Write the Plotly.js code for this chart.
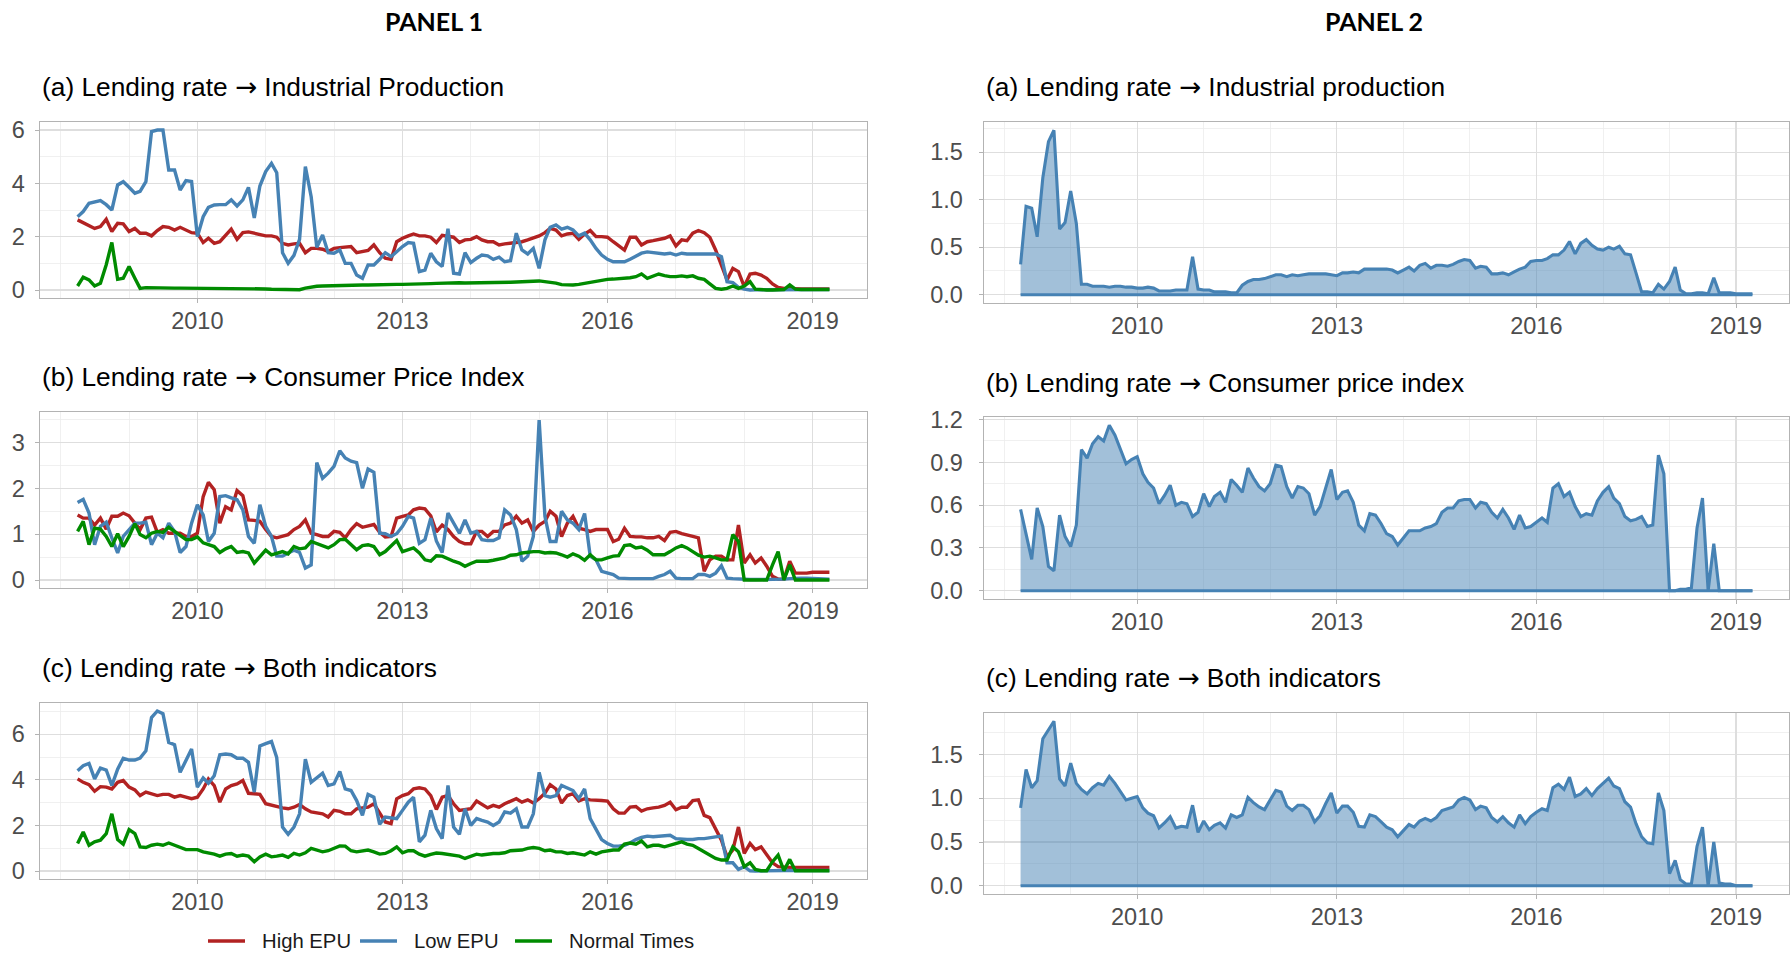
<!DOCTYPE html>
<html><head><meta charset="utf-8">
<script src="https://cdn.plot.ly/plotly-3.0.1.min.js"></script>
<style>html,body{margin:0;padding:0;background:#fff;}#chart{width:1791px;height:955px;}</style>
</head><body><div id="chart"></div>
<script>
// ---------- DATA (monthly, Apr 2008 – Apr 2019) ----------
const START_YEAR = 2008, START_MONTH = 4, N_MONTHS = 133;
const seriesNames = ['High EPU', 'Low EPU', 'Normal Times'];
const xTickLabels = ['2010', '2013', '2016', '2019'];

const p1a_high = [2.63,2.53,2.4,2.31,2.38,2.65,2.19,2.5,2.48,2.19,
2.31,2.13,2.13,2.03,2.23,2.38,2.35,2.25,2.35,2.25,
2.15,2.13,1.78,1.94,1.75,1.81,2.06,2.28,1.9,2.15,
2.18,2.13,2.06,2.03,2.03,1.98,1.75,1.69,1.73,1.75,
1.4,1.56,1.56,1.53,1.44,1.56,1.59,1.6,1.63,1.4,
1.44,1.48,1.69,1.4,1.19,1.15,1.81,1.94,2.03,2.1,
2.03,2.03,1.98,1.78,2.05,2.03,1.98,1.78,1.88,1.9,
2.0,1.88,1.81,1.81,1.69,1.73,1.75,1.78,1.81,1.88,
1.94,2.03,2.15,2.31,2.25,2.03,2.1,2.13,1.9,2.1,
2.23,2.0,2.0,1.98,1.81,1.65,1.5,1.98,1.98,1.69,
1.81,1.85,1.88,1.94,2.03,1.65,1.88,1.85,2.13,2.23,
2.15,1.98,1.5,0.94,0.38,0.81,0.69,0.13,0.6,0.63,
0.56,0.44,0.23,0.1,0.06,0.06,0.04,0.04,0.04,0.04,
0.04,0.04,0.04];
const p1a_low = [2.75,2.94,3.25,3.3,3.35,3.2,3.0,3.94,4.06,3.85,
3.63,3.7,4.06,5.94,6.0,6.0,4.5,4.5,3.75,4.1,
4.07,2.0,2.75,3.1,3.19,3.2,3.2,3.38,3.15,3.38,
3.85,2.7,3.9,4.44,4.75,4.4,1.4,1.0,1.3,1.9,
4.63,3.5,1.6,2.06,1.4,1.38,1.5,1.0,1.0,0.56,
0.44,0.94,0.94,1.15,1.4,1.25,1.44,1.63,1.78,1.75,
0.69,0.75,1.38,1.06,0.88,2.3,0.63,0.6,1.4,1.03,
1.19,1.31,1.28,1.15,1.23,1.06,1.1,2.13,1.5,1.35,
1.56,0.81,1.88,2.35,2.44,2.28,2.35,2.25,2.03,2.13,
1.88,1.56,1.31,1.15,1.06,1.06,1.06,1.15,1.28,1.38,
1.43,1.4,1.38,1.35,1.38,1.31,1.38,1.35,1.35,1.35,
1.35,1.35,1.35,1.25,0.31,0.28,0.1,0.03,0.0,0.01,
0.01,0.01,0.01,0.02,0.02,0.04,0.02,0.02,0.02,0.02,
0.02,0.02,0.02];
const p1a_normal = [0.15,0.48,0.38,0.15,0.25,0.95,1.78,0.4,0.44,0.88,
0.44,0.06,0.09,0.08,0.08,0.07,0.07,0.07,0.07,0.07,
0.06,0.06,0.06,0.06,0.06,0.05,0.04,0.04,0.04,0.04,
0.05,0.05,0.04,0.04,0.03,0.03,0.03,0.02,0.02,0.01,
0.07,0.11,0.14,0.15,0.16,0.17,0.17,0.18,0.18,0.19,
0.19,0.19,0.2,0.2,0.2,0.2,0.21,0.21,0.21,0.22,
0.22,0.23,0.24,0.25,0.26,0.26,0.27,0.27,0.26,0.26,
0.27,0.28,0.28,0.27,0.28,0.28,0.29,0.3,0.3,0.31,
0.33,0.34,0.32,0.3,0.26,0.2,0.19,0.19,0.21,0.25,
0.29,0.31,0.38,0.4,0.41,0.42,0.44,0.46,0.5,0.6,
0.44,0.53,0.6,0.54,0.5,0.5,0.53,0.5,0.53,0.44,
0.4,0.23,0.06,0.03,0.06,0.15,0.06,0.15,0.31,0.03,
0.0,0.0,0.0,0.0,0.02,0.19,0.03,0.02,0.02,0.02,
0.02,0.02,0.02];

const p1b_high = [1.42,1.35,1.35,1.2,1.35,1.11,1.39,1.39,1.46,1.4,
1.24,1.1,1.35,1.37,1.04,1.1,1.02,1.02,1.02,0.95,
0.95,1.02,1.82,2.13,1.97,1.24,1.6,1.53,1.95,1.84,
1.31,1.3,1.28,1.1,0.95,0.92,0.95,0.99,1.1,1.17,
1.31,1.02,0.99,0.95,0.95,1.06,1.04,0.92,1.1,1.23,
1.15,1.18,1.21,1.04,0.94,0.95,1.35,1.39,1.42,1.53,
1.57,1.55,1.4,1.05,1.2,1.1,0.95,0.84,0.79,0.79,
1.06,1.06,0.95,1.06,1.06,1.2,1.24,1.39,1.24,1.31,
1.06,1.2,1.28,1.5,1.39,0.95,1.24,1.39,1.13,1.1,
1.06,1.1,1.1,1.1,0.84,0.89,1.13,0.95,0.94,0.94,
0.92,0.92,0.95,0.86,1.04,1.06,1.01,0.99,0.95,0.92,
0.19,0.44,0.52,0.52,0.44,0.44,1.2,0.37,0.55,0.37,
0.48,0.3,0.08,0.02,0.02,0.41,0.15,0.15,0.15,0.17,
0.17,0.17,0.17];
const p1b_low = [1.69,1.76,1.46,0.77,1.17,1.26,0.92,0.59,0.95,1.1,
1.24,1.24,1.26,0.77,1.02,0.92,1.24,1.06,0.6,0.73,
1.24,1.64,1.42,0.84,1.02,1.82,1.84,1.79,1.75,1.53,
0.95,0.8,1.64,1.17,0.95,0.52,0.52,0.59,0.65,0.6,
0.26,0.33,2.56,2.22,2.33,2.48,2.82,2.66,2.59,2.56,
2.0,2.42,2.35,1.02,1.01,0.95,1.01,1.17,1.39,1.35,
0.8,0.88,1.35,0.85,0.6,1.46,1.24,1.02,1.31,1.02,
1.06,0.88,0.86,0.86,0.92,1.53,1.42,1.1,0.41,0.52,
0.95,3.49,1.39,0.84,0.84,1.5,1.31,1.24,1.1,1.45,
0.52,0.44,0.19,0.15,0.12,0.04,0.03,0.03,0.03,0.03,
0.03,0.03,0.08,0.12,0.19,0.04,0.03,0.03,0.03,0.12,
0.12,0.08,0.15,0.31,0.04,0.03,0.02,0.02,0.01,0.01,
0.01,0.01,0.01,0.01,0.02,0.03,0.04,0.04,0.04,0.03,
0.03,0.02,0.02];
const p1b_normal = [1.06,1.28,0.77,1.13,1.11,0.95,0.73,1.01,0.73,0.95,
1.23,0.99,0.92,1.02,1.06,1.04,1.15,1.06,0.99,0.88,
0.88,0.94,0.81,0.77,0.73,0.6,0.68,0.73,0.6,0.62,
0.59,0.37,0.52,0.65,0.55,0.59,0.62,0.57,0.73,0.68,
0.7,0.84,0.79,0.73,0.7,0.77,0.88,0.89,0.77,0.66,
0.75,0.77,0.73,0.55,0.62,0.73,0.86,0.62,0.66,0.7,
0.59,0.44,0.41,0.53,0.52,0.46,0.41,0.37,0.3,0.36,
0.41,0.41,0.41,0.43,0.46,0.48,0.54,0.55,0.59,0.61,
0.62,0.62,0.59,0.6,0.59,0.55,0.5,0.57,0.52,0.43,
0.55,0.44,0.44,0.48,0.52,0.53,0.75,0.77,0.7,0.72,
0.65,0.55,0.55,0.55,0.62,0.7,0.75,0.7,0.62,0.54,
0.5,0.52,0.48,0.44,0.44,0.99,0.84,0.0,0.0,0.0,
0.0,0.0,0.33,0.62,0.0,0.33,0.0,0.0,0.0,0.0,
0.0,0.0,0.0];

const p1c_high = [4.04,3.89,3.79,3.5,3.7,3.68,3.6,3.89,3.97,3.68,
3.56,3.31,3.46,3.39,3.31,3.36,3.36,3.24,3.31,3.24,
3.17,3.24,3.6,4.04,3.75,3.02,3.6,3.75,3.82,3.97,
3.41,3.39,3.36,2.95,2.88,2.83,2.77,2.73,2.8,2.92,
2.73,2.59,2.54,2.51,2.37,2.66,2.62,2.51,2.51,2.73,
2.77,2.8,2.95,2.51,2.15,2.08,3.17,3.31,3.39,3.6,
3.65,3.6,3.31,2.7,3.24,3.31,2.95,2.66,2.69,2.73,
3.07,2.92,2.77,2.88,2.8,2.95,3.07,3.17,3.02,3.12,
2.98,3.17,3.41,3.79,3.6,2.98,3.31,3.39,3.07,3.17,
3.12,3.09,3.09,3.07,2.73,2.54,2.54,2.8,2.83,2.63,
2.73,2.77,2.8,2.88,3.02,2.69,2.8,2.8,3.09,3.12,
2.44,2.34,1.86,1.35,0.62,0.92,1.93,0.77,1.21,0.94,
1.06,0.7,0.36,0.19,0.16,0.16,0.16,0.16,0.16,0.16,
0.16,0.16,0.16];
const p1c_low = [4.4,4.62,4.72,4.04,4.52,4.43,3.75,4.47,4.95,4.87,
4.87,4.95,5.27,6.73,7.02,6.9,5.64,5.54,4.33,4.84,
5.35,3.68,4.08,3.85,4.18,5.1,5.13,5.1,4.95,4.95,
4.77,3.46,5.49,5.59,5.68,4.98,1.93,1.61,1.93,2.51,
4.91,3.89,4.11,4.29,3.75,3.82,4.37,3.6,3.53,3.09,
2.44,3.36,3.24,2.05,2.37,2.34,2.3,2.66,3.02,3.24,
1.28,1.57,2.66,1.86,1.42,3.75,1.93,1.61,2.73,2.0,
2.3,2.22,2.15,2.0,2.15,2.59,2.54,2.73,1.93,1.93,
2.51,4.33,3.31,3.24,3.31,3.75,3.65,3.53,3.17,3.6,
2.3,1.86,1.38,1.21,1.09,1.09,1.13,1.23,1.38,1.47,
1.53,1.5,1.53,1.53,1.57,1.42,1.38,1.38,1.38,1.42,
1.42,1.47,1.5,1.53,0.36,0.36,0.07,0.19,0.01,0.0,
0.01,0.01,0.01,0.01,0.02,0.02,0.02,0.02,0.02,0.02,
0.02,0.02,0.02];
const p1c_normal = [1.21,1.71,1.13,1.28,1.35,1.64,2.51,1.38,1.18,1.82,
1.64,1.06,1.03,1.13,1.18,1.13,1.23,1.13,1.03,0.94,
0.94,0.94,0.84,0.8,0.74,0.65,0.74,0.77,0.65,0.7,
0.65,0.41,0.62,0.74,0.62,0.65,0.7,0.6,0.77,0.7,
0.8,0.99,0.92,0.84,0.89,0.99,1.1,1.09,0.89,0.84,
0.89,0.92,0.84,0.74,0.77,0.89,1.06,0.8,0.89,0.89,
0.74,0.65,0.73,0.79,0.77,0.74,0.7,0.65,0.55,0.65,
0.74,0.7,0.74,0.77,0.77,0.8,0.89,0.89,0.92,0.99,
1.03,0.99,0.89,0.92,0.84,0.84,0.77,0.8,0.74,0.7,
0.84,0.74,0.84,0.89,0.92,0.92,1.18,1.23,1.18,1.32,
1.06,1.13,1.13,1.06,1.13,1.21,1.28,1.18,1.13,0.99,
0.84,0.7,0.55,0.48,0.48,1.06,0.84,0.19,0.36,0.07,
0.01,0.01,0.41,0.7,0.01,0.51,0.01,0.01,0.01,0.01,
0.01,0.01,0.01];

const p2a = [0.32,0.93,0.91,0.61,1.23,1.61,1.73,0.69,0.76,1.09,
0.75,0.11,0.11,0.09,0.09,0.09,0.08,0.09,0.09,0.08,
0.08,0.07,0.07,0.08,0.07,0.04,0.04,0.04,0.05,0.05,
0.05,0.4,0.06,0.05,0.05,0.03,0.03,0.03,0.02,0.02,
0.1,0.14,0.16,0.16,0.17,0.19,0.21,0.21,0.19,0.21,
0.2,0.21,0.22,0.22,0.22,0.22,0.21,0.2,0.23,0.23,
0.24,0.23,0.27,0.27,0.27,0.27,0.27,0.26,0.23,0.26,
0.29,0.25,0.31,0.33,0.28,0.31,0.31,0.3,0.32,0.35,
0.37,0.36,0.28,0.3,0.29,0.22,0.22,0.23,0.21,0.24,
0.27,0.29,0.35,0.36,0.36,0.38,0.42,0.42,0.47,0.56,
0.43,0.54,0.58,0.52,0.48,0.47,0.5,0.48,0.51,0.43,
0.42,0.23,0.03,0.03,0.02,0.11,0.06,0.14,0.29,0.05,
0.01,0.01,0.02,0.02,0.01,0.18,0.02,0.02,0.02,0.01,
0.01,0.01,0.01];
const p2b = [0.57,0.4,0.22,0.58,0.45,0.17,0.14,0.53,0.38,0.31,
0.46,0.99,0.93,1.03,1.08,1.05,1.16,1.09,0.99,0.89,
0.92,0.94,0.82,0.76,0.72,0.61,0.67,0.74,0.6,0.62,
0.61,0.52,0.55,0.68,0.59,0.66,0.69,0.62,0.78,0.74,
0.69,0.86,0.79,0.73,0.7,0.75,0.88,0.87,0.73,0.65,
0.73,0.72,0.68,0.53,0.59,0.72,0.85,0.64,0.69,0.7,
0.62,0.46,0.42,0.54,0.53,0.47,0.4,0.38,0.32,0.37,
0.42,0.42,0.42,0.44,0.45,0.47,0.55,0.58,0.58,0.63,
0.64,0.64,0.58,0.62,0.61,0.55,0.51,0.57,0.51,0.43,
0.53,0.44,0.45,0.48,0.51,0.48,0.72,0.75,0.66,0.69,
0.59,0.52,0.54,0.53,0.63,0.69,0.73,0.65,0.61,0.52,
0.49,0.5,0.52,0.45,0.46,0.95,0.82,0.0,0.0,0.01,
0.01,0.02,0.44,0.65,0.0,0.33,0.0,0.0,0.0,0.0,
0.0,0.0,0.0];
const p2c = [0.89,1.33,1.12,1.2,1.68,1.78,1.88,1.22,1.14,1.4,
1.17,1.1,1.05,1.12,1.17,1.15,1.25,1.17,1.08,0.98,
1.0,1.02,0.89,0.83,0.8,0.66,0.72,0.79,0.66,0.68,
0.67,0.92,0.61,0.74,0.64,0.69,0.72,0.66,0.81,0.78,
0.81,1.01,0.95,0.9,0.87,0.98,1.09,1.07,0.91,0.86,
0.92,0.92,0.87,0.73,0.8,0.94,1.06,0.83,0.91,0.91,
0.84,0.68,0.67,0.81,0.79,0.73,0.67,0.64,0.56,0.63,
0.7,0.67,0.74,0.77,0.74,0.78,0.86,0.88,0.9,0.98,
1.01,0.98,0.87,0.91,0.89,0.78,0.73,0.79,0.72,0.67,
0.81,0.71,0.79,0.84,0.88,0.86,1.12,1.16,1.1,1.24,
1.02,1.05,1.11,1.03,1.11,1.17,1.23,1.14,1.11,0.96,
0.9,0.71,0.56,0.49,0.48,1.06,0.86,0.14,0.29,0.07,
0.02,0.02,0.45,0.67,0.0,0.5,0.03,0.02,0.02,0.0,
0.0,0.0,0.0];

// ---------- BUILD ----------
const months = Array.from({length: N_MONTHS}, (_, i) => {
  const m = START_MONTH - 1 + i;
  const y = START_YEAR + Math.floor(m / 12);
  return y + '-' + String(m % 12 + 1).padStart(2, '0') + '-01';
});

const W = 1791, H = 955;
const FONT = 'Liberation Sans, Arial, sans-serif';
const SERIES_COLORS = ['#B22222', '#4682B4', '#008B00'];

const t0 = Date.parse(months[0]), t1 = Date.parse(months[N_MONTHS - 1]);
const xpad = 0.05 * (t1 - t0);
const xRange = [t0 - xpad, t1 + xpad];

function yRange(arrs) {
  let lo = Infinity, hi = -Infinity;
  arrs.forEach(a => a.forEach(v => { lo = Math.min(lo, v); hi = Math.max(hi, v); }));
  lo = Math.min(lo, 0);
  const p = 0.05 * (hi - lo);
  return [lo - p, hi + p];
}

// subplot boxes in pixels: [left, top, right, bottom]
const boxes = [
  [40, 122, 867, 298],
  [40, 412, 867, 588],
  [40, 703, 867, 879],
  [984, 122, 1789, 303],
  [984, 417, 1789, 599],
  [984, 713, 1789, 894]
];
const p1sets = [
  [p1a_high, p1a_low, p1a_normal],
  [p1b_high, p1b_low, p1b_normal],
  [p1c_high, p1c_low, p1c_normal]
];
const p2sets = [p2a, p2b, p2c];
const yDticks = [2, 1, 2, 0.5, 0.3, 0.5];
const yFormats = ['d', 'd', 'd', '.1f', '.1f', '.1f'];

const traces = [];
const layout = {
  width: W, height: H,
  margin: {l: 0, r: 0, t: 0, b: 0},
  paper_bgcolor: '#fff', plot_bgcolor: '#fff',
  font: {family: FONT, color: '#000'},
  showlegend: false,
  annotations: [],
  shapes: []
};

const gridC = '#dedede', minorC = '#ececec', lineC = '#b3b3b3';

boxes.forEach((b, k) => {
  const n = k + 1;
  const xa = 'xaxis' + (n === 1 ? '' : n), ya = 'yaxis' + (n === 1 ? '' : n);
  const xref = 'x' + (n === 1 ? '' : n), yref = 'y' + (n === 1 ? '' : n);
  const isP2 = k >= 3;
  const arrs = isP2 ? [p2sets[k - 3]] : p1sets[k];
  layout[xa] = {
    type: 'date', domain: [b[0] / W, b[2] / W], anchor: yref, range: xRange,
    tickmode: 'linear', tick0: '2010-01-01', dtick: 'M36', tickformat: '%Y',
    showgrid: true, gridcolor: gridC, gridwidth: 1.1,
    minor: {tickmode: 'linear', tick0: '2008-01-01', dtick: 'M12', showgrid: true, gridcolor: minorC, gridwidth: 0.8},
    showline: true, mirror: true, linecolor: lineC, linewidth: 1.4,
    ticks: 'outside', ticklen: 4, tickcolor: lineC, tickwidth: 1,
    tickfont: {size: 23.5, color: '#4d4d4d', family: FONT},
    ticklabelstandoff: -3,
    zeroline: false, fixedrange: true
  };
  layout[ya] = {
    domain: [1 - b[3] / H, 1 - b[1] / H], anchor: xref, range: yRange(arrs),
    tickmode: 'linear', tick0: 0, dtick: yDticks[k], tickformat: yFormats[k],
    showgrid: true, gridcolor: gridC, gridwidth: 1.1,
    minor: {tickmode: 'linear', tick0: 0, dtick: yDticks[k] / 2, showgrid: true, gridcolor: minorC, gridwidth: 0.8},
    showline: true, mirror: true, linecolor: lineC, linewidth: 1.4,
    ticks: 'outside', ticklen: 4, tickcolor: lineC, tickwidth: 1,
    tickfont: {size: 23.5, color: '#4d4d4d', family: FONT},
    ticklabelstandoff: isP2 ? 11 : 5,
    zeroline: false, fixedrange: true
  };
  if (!isP2) {
    p1sets[k].forEach((arr, j) => {
      traces.push({
        type: 'scatter', mode: 'lines', x: months, y: arr, xaxis: xref, yaxis: yref,
        name: seriesNames[j], legendgroup: seriesNames[j], showlegend: false,
        line: {color: SERIES_COLORS[j], width: 3.4}, hoverinfo: 'skip'
      });
    });
  } else {
    const arr = p2sets[k - 3];
    traces.push({
      type: 'scatter', mode: 'lines', x: months, y: months.map(() => 0), xaxis: xref, yaxis: yref,
      showlegend: false, line: {color: '#4682B4', width: 3}, hoverinfo: 'skip'
    });
    traces.push({
      type: 'scatter', mode: 'lines', x: months, y: arr, xaxis: xref, yaxis: yref,
      showlegend: false, fill: 'tonexty', fillcolor: 'rgba(70,130,180,0.5)',
      line: {color: '#4682B4', width: 3.1}, hoverinfo: 'skip'
    });
  }
});

// ---- legend (key) under panel 1 ----
const LEG_Y = 941, LEG_ITEMS_X = [208, 360, 515], LEG_LINE = 37, LEG_GAP = 15;
seriesNames.forEach((nm, j) => {
  const x0 = LEG_ITEMS_X[j];
  layout.shapes.push({
    type: 'line', xref: 'paper', yref: 'paper',
    x0: x0 / W, x1: (x0 + LEG_LINE) / W, y0: 1 - LEG_Y / H, y1: 1 - LEG_Y / H,
    line: {color: SERIES_COLORS[j], width: 3.6}
  });
  layout.annotations.push({
    text: nm, xref: 'paper', yref: 'paper', x: (x0 + LEG_LINE + LEG_GAP) / W, y: 1 - LEG_Y / H,
    xanchor: 'left', yanchor: 'middle', showarrow: false,
    font: {size: 20.3, color: '#1a1a1a', family: FONT}
  });
});

const ARROW = '<span style="font-family:DejaVu Sans">\u2192</span>';
const titles = [
  ['(a) Lending rate ' + ARROW + ' Industrial Production', 40, 87],
  ['(b) Lending rate ' + ARROW + ' Consumer Price Index', 40, 377],
  ['(c) Lending rate ' + ARROW + ' Both indicators', 40, 668],
  ['(a) Lending rate ' + ARROW + ' Industrial production', 984, 87],
  ['(b) Lending rate ' + ARROW + ' Consumer price index', 984, 383],
  ['(c) Lending rate ' + ARROW + ' Both indicators', 984, 678]
];
titles.forEach(t => layout.annotations.push({
  text: t[0], xref: 'paper', yref: 'paper', x: t[1] / W, y: 1 - t[2] / H,
  xanchor: 'left', yanchor: 'middle', showarrow: false,
  font: {size: 26.3, color: '#000', family: FONT}
}));
[['<b>PANEL 1</b>', 434], ['<b>PANEL 2</b>', 1374]].forEach(p => layout.annotations.push({
  text: p[0], xref: 'paper', yref: 'paper', x: p[1] / W, y: 1 - 21 / H,
  xanchor: 'center', yanchor: 'middle', showarrow: false,
  font: {size: 25, color: '#000', family: 'Lato, Liberation Sans, sans-serif'}
}));

Plotly.newPlot('chart', traces, layout, {staticPlot: true, displayModeBar: false});
</script></body></html>
